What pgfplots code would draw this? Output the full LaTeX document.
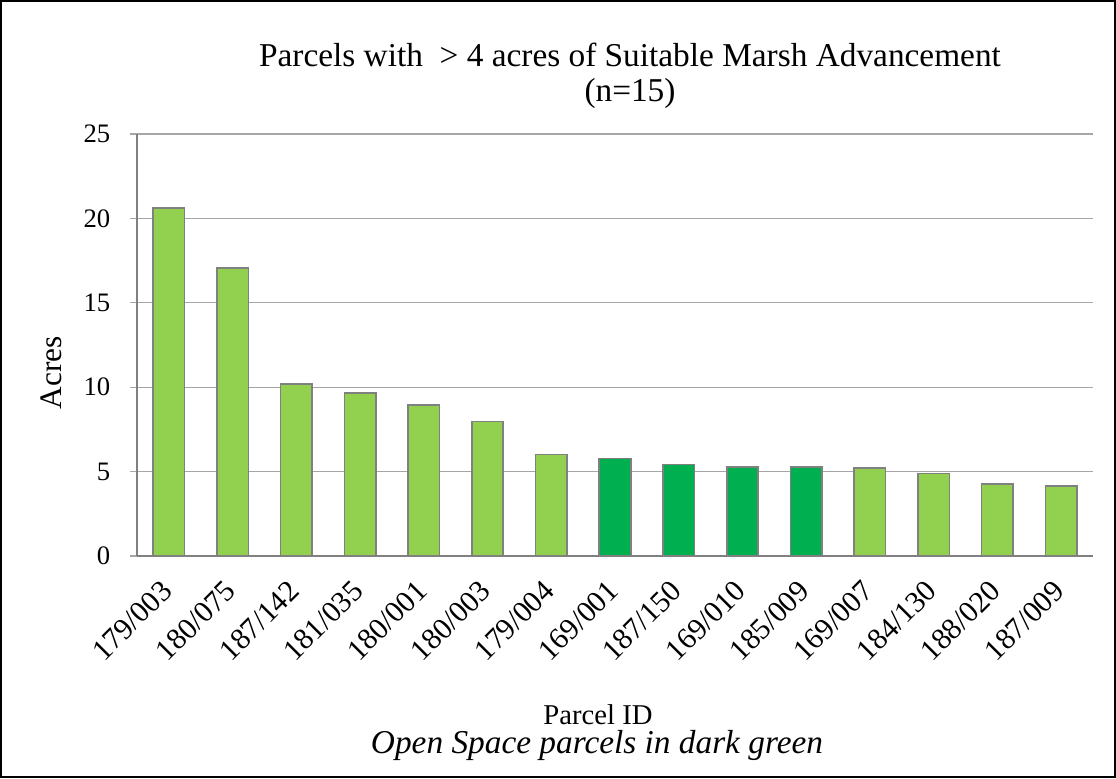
\documentclass[border=0pt]{standalone}
\usepackage{pgfplots}
\pgfplotsset{compat=1.18}
\usepackage{fontspec}
\setmainfont{Liberation Serif}
\definecolor{lightg}{HTML}{92D050}
\definecolor{darkg}{HTML}{00B050}
\definecolor{edgeg}{HTML}{808080}
\definecolor{gridg}{HTML}{A6A6A6}
\pgfplotstableread{
x val
0 20.6
1 17.06
2 10.19
3 9.64
4 8.95
5 7.96
6 6.02
11 5.23
12 4.88
13 4.28
14 4.16
}\lighttable
\pgfplotstableread{
x val
7 5.77
8 5.41
9 5.29
10 5.29
}\darktable
\begin{document}
\begin{tikzpicture}
\path[use as bounding box] (0,0) rectangle (837pt,583.5pt);
\draw[line width=1.2pt,black] (0.75pt,0.75pt) rectangle (836.25pt,582.75pt);
\begin{axis}[
  at={(102.75pt,166.5pt)}, anchor=south west,
  scale only axis,
  width=717pt, height=316.5pt,
  xmin=-0.5, xmax=14.5,
  ymin=0, ymax=25,
  ytick={0,5,...,25},
  xtick={0,...,14},
  xticklabels={179/003,180/075,187/142,181/035,180/001,180/003,179/004,169/001,187/150,169/010,185/009,169/007,184/130,188/020,187/009},
  xticklabel style={rotate=45, anchor=east, font=\fontsize{22.5}{24}\selectfont, xshift=-10pt, yshift=-11.3pt},
  yticklabel style={font=\fontsize{20}{22}\selectfont, xshift=-11.5pt},
  /pgf/number format/assume math mode=true,
  axis x line*=bottom, axis y line*=left,
  axis line style={draw=edgeg, line width=1pt},
  x axis line style={-}, y axis line style={-},
  major x tick style={draw=none},
  major y tick style={draw=gridg, line width=1pt},
  tick align=outside, major tick length=5pt,
  ymajorgrids, grid style={draw=gridg, line width=1pt},
  ybar, bar width=23.6pt, bar shift=0pt,
  clip=false,
]
\addplot[fill=lightg, draw=edgeg, line width=1.2pt] table[x=x,y=val] {\lighttable};
\addplot[fill=darkg, draw=edgeg, line width=1.2pt] table[x=x,y=val] {\darktable};
\end{axis}
\node[font=\fontsize{25}{28}\selectfont] at (472.5pt,542pt) {Parcels with\ \ > 4 acres of Suitable Marsh Advancement};
\node[font=\fontsize{25}{28}\selectfont] at (472.5pt,513.75pt) {(n=15)};
\node[font=\fontsize{23.5}{26}\selectfont, rotate=90] at (38.5pt,303.75pt) {Acres};
\node[font=\fontsize{21.5}{24}\selectfont] at (448.5pt,47.5pt) {Parcel ID};
\node[font=\fontsize{25}{28}\selectfont\itshape] at (447.75pt,24.5pt) {Open Space parcels in dark green};
\end{tikzpicture}
\end{document}
